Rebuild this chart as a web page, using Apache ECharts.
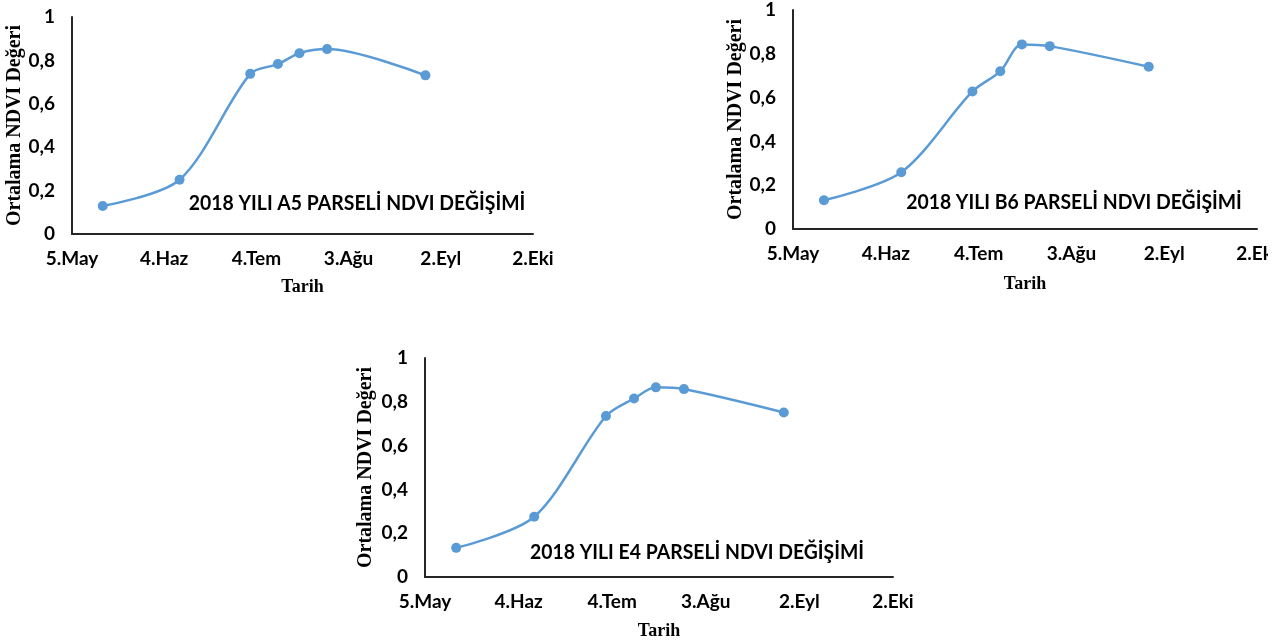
<!DOCTYPE html>
<html>
<head>
<meta charset="utf-8">
<script src="https://cdn.jsdelivr.net/npm/echarts@6/dist/echarts.min.js"></script>
<style>
html,body{margin:0;padding:0;background:#fff;}
#c{width:1288px;height:643px;}
</style>
</head>
<body>
<div id="c"></div>
<script>
// ---- data ----
const obsDates = ['2018-05-15','2018-06-09','2018-07-02','2018-07-11','2018-07-18','2018-07-27','2018-08-28'];
const ndviA5 = [0.129, 0.250, 0.738, 0.783, 0.833, 0.852, 0.731];
const ndviB6 = [0.131, 0.259, 0.628, 0.720, 0.843, 0.835, 0.741];
const ndviE4 = [0.133, 0.275, 0.735, 0.815, 0.866, 0.858, 0.751];
const xTickLabels = ['5.May','4.Haz','4.Tem','3.Ağu','2.Eyl','2.Eki'];
const yTickLabels = ['0','0,2','0,4','0,6','0,8','1'];
const chartTitles = ['2018 YILI A5 PARSELİ NDVI DEĞİŞİMİ','2018 YILI B6 PARSELİ NDVI DEĞİŞİMİ','2018 YILI E4 PARSELİ NDVI DEĞİŞİMİ'];
const xName = 'Tarih';
const yName = 'Ortalama NDVI Değeri';
const startDate = '2018-05-05';
const dayStep = 30;

function dayOffset(s){
  const p = s.split('-').map(Number), q = startDate.split('-').map(Number);
  return (Date.UTC(p[0],p[1]-1,p[2]) - Date.UTC(q[0],q[1]-1,q[2]))/86400000;
}
const xs = obsDates.map(dayOffset);
const seriesVals = [ndviA5, ndviB6, ndviE4];

const grids = [
  {left:72, top:17, width:461, height:217},
  {left:793, top:10, width:464, height:219},
  {left:425, top:358, width:468, height:219}
];
const xNameGaps = [44, 46, 45];
const yNameGaps = [47, 47, 49];
const titlePos = [[357,204],[1074,203],[697,553]];

const sansBold = {fontFamily:'Lato', fontWeight:'bold', color:'#000'};
const axisLine = {show:true, lineStyle:{color:'#262626', width:2}};

const option = {
  backgroundColor:'#fff',
  animation:false,
  grid: grids,
  xAxis: grids.map((g,i)=>({
    type:'value', gridIndex:i, min:0, max:dayStep*(xTickLabels.length-1), interval:dayStep,
    axisLine: axisLine, axisTick:{show:false}, splitLine:{show:false},
    axisLabel: Object.assign({fontSize:19, margin:15, formatter:v=>xTickLabels[Math.round(v/dayStep)]}, sansBold),
    name:xName, nameLocation:'middle', nameGap:xNameGaps[i],
    nameTextStyle:{fontFamily:'Liberation Serif', fontWeight:'bold', fontSize:18, color:'#000'}
  })),
  yAxis: grids.map((g,i)=>({
    type:'value', gridIndex:i, min:0, max:1, interval:0.2,
    axisLine: axisLine, axisTick:{show:false}, splitLine:{show:false},
    axisLabel: Object.assign({fontSize:19, margin:17, formatter:v=>yTickLabels[Math.round(v/0.2)]}, sansBold),
    name:yName, nameLocation:'middle', nameGap:yNameGaps[i], nameRotate:90,
    nameTextStyle:{fontFamily:'Liberation Serif', fontWeight:'bold', fontSize:20, color:'#000'}
  })),
  series: seriesVals.map((vals,i)=>({
    type:'line', xAxisIndex:i, yAxisIndex:i, smooth:0.3,
    data: xs.map((x,k)=>[x, vals[k]]),
    symbol:'circle', symbolSize:10,
    lineStyle:{color:'#5b9bd5', width:2.5},
    itemStyle:{color:'#5b9bd5'}
  })),
  graphic: chartTitles.map((t,i)=>({
    type:'text', x:titlePos[i][0], y:titlePos[i][1], scaleX:0.97, z:10,
    style:{text:t, fontFamily:'Lato', fontWeight:'bold', fontSize:20, fill:'#000', align:'center', verticalAlign:'middle'}
  })).concat([{
    // the reference picture is cut off at its right edge
    type:'rect', left:1268, top:0, z:100, shape:{width:20, height:643}, style:{fill:'#fff'}
  }])
};
const chart = echarts.init(document.getElementById('c'), null, {renderer:'canvas'});
chart.setOption(option);
</script>
</body>
</html>
